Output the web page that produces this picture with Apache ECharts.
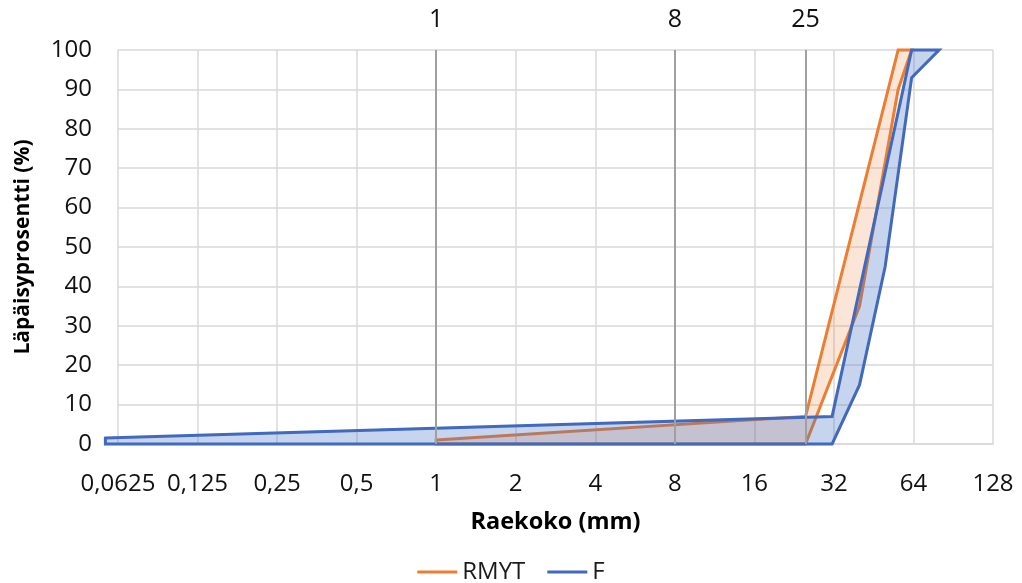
<!DOCTYPE html>
<html>
<head>
<meta charset="utf-8">
<script src="https://cdn.jsdelivr.net/npm/echarts@6/dist/echarts.min.js"></script>
<style>
  html, body { margin: 0; padding: 0; background: #fff; }
  #chart { width: 1022px; height: 583px; }
</style>
</head>
<body>
<div id="chart"></div>
<script>
// Grain size axis (log2) ticks and their Finnish decimal-comma labels
const sizeTicks = [0.0625, 0.125, 0.25, 0.5, 1, 2, 4, 8, 16, 32, 64, 128];
const sizeTickLabels = ['0,0625', '0,125', '0,25', '0,5', '1', '2', '4', '8', '16', '32', '64', '128'];

// RMYT grading envelope, traced round as a closed outline (size mm, passing %)
const rmytSize = [1, 25, 56, 63, 56, 40, 25, 1];
const rmytPass = [1, 7, 100, 100, 90, 35, 0, 0];

// F grading envelope, traced round as a closed outline (size mm, passing %)
const fSize = [0.056, 31.5, 63, 80, 63, 50, 40, 31.5, 0.056];
const fPass = [1.5, 7, 100, 100, 93, 45, 15, 0, 0];

// Marked reference sieve sizes drawn as vertical lines
const refSizes = [1, 8, 25];
const refLabels = ['1', '8', '25'];

const FONT = "'Open Sans', sans-serif";

function envelope(name, xs, ys, stroke, fill) {
  return {
    type: 'custom',
    name: name,
    coordinateSystem: 'cartesian2d',
    clip: false,
    data: [[xs[0], ys[0]]],
    itemStyle: { color: stroke },
    renderItem: function (params, api) {
      const pts = xs.map(function (x, i) { return api.coord([x, ys[i]]); });
      return {
        type: 'polygon',
        shape: { points: pts },
        style: { fill: fill, stroke: stroke, lineWidth: 3, lineJoin: 'miter' }
      };
    }
  };
}

const chart = echarts.init(document.getElementById('chart'), null, { renderer: 'canvas' });

chart.setOption({
  animation: false,
  backgroundColor: '#ffffff',
  textStyle: { fontFamily: FONT },
  grid: { left: 118, right: 29, top: 50, bottom: 139 },
  legend: {
    data: [
      { name: 'RMYT', icon: 'rect' },
      { name: 'F', icon: 'rect' }
    ],
    top: 555,
    left: 'center',
    itemWidth: 40,
    itemHeight: 3,
    itemGap: 22,
    textStyle: { fontFamily: FONT, fontSize: 24, color: '#1a1a1a' }
  },
  xAxis: {
    type: 'log',
    logBase: 2,
    min: 0.0625,
    max: 128,
    interval: 1,
    splitNumber: 11,
    name: 'Raekoko (mm)',
    nameLocation: 'middle',
    nameGap: 66,
    nameTextStyle: { fontFamily: FONT, fontSize: 23.5, fontWeight: 'bold', color: '#000' },
    axisLine: { show: true, lineStyle: { color: '#d9d9d9', width: 1.5 } },
    axisTick: { show: false },
    splitLine: { show: true, lineStyle: { color: '#d9d9d9', width: 1.5 } },
    axisLabel: {
      margin: 28,
      fontSize: 24,
      color: '#111',
      fontFamily: FONT,
      showMinLabel: true,
      showMaxLabel: true,
      formatter: function (v) {
        let best = 0;
        sizeTicks.forEach(function (t, i) {
          if (Math.abs(Math.log2(t) - Math.log2(v)) < Math.abs(Math.log2(sizeTicks[best]) - Math.log2(v))) best = i;
        });
        return sizeTickLabels[best];
      }
    }
  },
  yAxis: {
    type: 'value',
    min: 0,
    max: 100,
    interval: 10,
    name: 'Läpäisyprosentti (%)',
    nameLocation: 'middle',
    nameGap: 84,
    nameTextStyle: { fontFamily: FONT, fontSize: 21, fontWeight: 'bold', color: '#000' },
    axisLine: { show: false },
    axisTick: { show: false },
    splitLine: { show: true, lineStyle: { color: '#d9d9d9', width: 1.5 } },
    axisLabel: { margin: 26, fontSize: 24, color: '#111', fontFamily: FONT }
  },
  series: [
    {
      type: 'line',
      name: 'ref',
      data: [],
      z: 1,
      markLine: {
        silent: true,
        symbol: 'none',
        lineStyle: { color: '#a0a0a0', width: 2, type: 'solid' },
        label: {
          show: true,
          position: 'end',
          distance: 18,
          fontFamily: "'Liberation Sans Narrow', 'Open Sans', sans-serif",
          fontSize: 25,
          color: '#111',
          formatter: function (p) { return refLabels[p.dataIndex]; }
        },
        data: refSizes.map(function (s) { return { xAxis: s }; })
      }
    },
    envelope('RMYT', rmytSize, rmytPass, '#ED7D31', 'rgba(237,125,49,0.2)'),
    envelope('F', fSize, fPass, '#4169BC', 'rgba(68,114,196,0.3)')
  ]
});
</script>
</body>
</html>
